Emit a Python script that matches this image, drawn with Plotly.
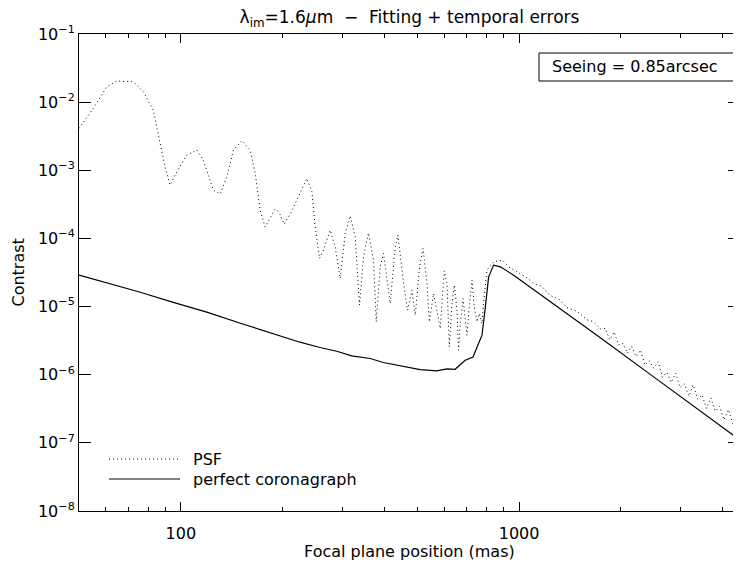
import math
import plotly.graph_objects as go

# ---------------- data ----------------
# PSF (dotted) — inner, oscillating part
psf_inner_x = [50, 55.1, 60.4, 64.6, 72.4, 77.5, 82.9, 86.8, 89.8, 92.9,
               97.3, 104.1, 111.5, 116.6, 124.8, 130.7, 136.8, 143.1, 151.5, 160.3,
               165.9, 171.6, 177.5, 183.7, 190.1, 195.3, 202.1, 210.5, 220.3, 235.9,
               244.1, 249.6, 257.0, 264.1, 276.4, 286.0, 295.9, 306.2, 316.8, 327.8,
               337.5, 346.8, 358.8, 371.3, 378.2, 388.6, 397.5, 416.0, 430.5, 438.5,
               455.6, 468.1, 482.4, 493.3, 508.0, 520.0, 534.3, 542.8, 558.9, 574.4,
               584.8, 601.0, 612.2, 621.9, 633.4, 643.5, 655.4, 662.6, 670.3, 682.7,
               693.4, 701.5, 714.0, 725.8, 737.3, 751.0, 762.9, 777.0, 785.7, 804.0,
               841.0, 890.6, 931.5, 1008.5, 1060, 1104, 1170, 1237, 1310, 1387,
               1480, 1589, 1660, 1740]
psf_inner_y = [4.12e-3, 8.1e-3, 1.68e-2, 2.04e-2, 2.0e-2, 1.42e-2, 7.66e-3, 2.48e-3, 1.12e-3, 6.07e-4,
               9.5e-4, 1.67e-3, 1.98e-3, 1.41e-3, 5.12e-4, 4.48e-4, 8.03e-4, 1.98e-3, 2.71e-3, 1.98e-3,
               9.0e-4, 2.6e-4, 1.47e-4, 1.99e-4, 2.69e-4, 2.43e-4, 1.62e-4, 2.27e-4, 3.65e-4, 7.6e-4,
               4.83e-4, 1.48e-4, 5.08e-5, 6.73e-5, 1.32e-4, 7.53e-5, 2.59e-5, 1.18e-4, 2.15e-4, 1.05e-4,
               1.05e-5, 5.37e-5, 1.21e-4, 4.8e-5, 5.96e-6, 3.83e-5, 6.03e-5, 1.11e-5, 7.53e-5, 1.12e-4,
               2.18e-5, 8.85e-6, 1.74e-5, 7.48e-6, 3.83e-5, 7.13e-5, 2.18e-5, 5.96e-6, 1.56e-5, 7.92e-6,
               4.77e-6, 3.34e-5, 2.18e-5, 2.56e-6, 1.11e-5, 2.06e-5, 8.85e-6, 2.29e-6, 5.65e-6, 1.31e-5,
               5.65e-6, 3.80e-6, 1.11e-5, 2.44e-5, 9.9e-6, 5.96e-6, 7.92e-6, 5.65e-6, 1.17e-5, 3.43e-5,
               4.53e-5, 4.8e-5, 3.83e-5, 3.06e-5, 2.6e-5, 2.2e-5, 1.95e-5, 1.45e-5, 1.3e-5, 9.6e-6,
               8.6e-6, 6.4e-6, 6.0e-6, 4.7e-6]

# PSF (dotted) — outer halo, noisy part
psf_outer_x = [1799, 1854, 1910, 1968, 2028, 2089, 2153, 2218, 2286, 2355,
               2427, 2500, 2576, 2655, 2735, 2818, 2904, 2992, 3083, 3177,
               3273, 3373, 3475, 3581, 3690, 3802, 3917, 4036, 4159, 4285,
               4416, 4498]
psf_outer_y = [4.80e-6, 3.27e-6, 4.23e-6, 2.74e-6, 2.89e-6, 2.06e-6, 2.61e-6, 1.85e-6, 2.30e-6, 1.39e-6,
               1.60e-6, 1.25e-6, 1.55e-6, 9.18e-7, 1.08e-6, 7.71e-7, 1.05e-6, 6.49e-7, 7.33e-7, 4.86e-7,
               7.08e-7, 4.39e-7, 5.06e-7, 3.21e-7, 4.56e-7, 2.90e-7, 3.42e-7, 2.17e-7, 3.08e-7, 1.91e-7,
               2.26e-7, 1.84e-7]

# Perfect coronagraph (solid)
cor_x = [50, 60, 75, 95, 120, 150, 185, 225, 258, 289,
         320, 363, 397, 445, 510, 571, 612, 647, 693, 731,
         751, 777, 795, 813, 841, 881, 964, 1104, 1386, 1739,
         2500, 3500, 4500]
cor_y = [2.9e-5, 2.25e-5, 1.65e-5, 1.15e-5, 8.2e-6, 5.7e-6, 4.1e-6, 3.0e-6, 2.51e-6, 2.21e-6,
         1.89e-6, 1.73e-6, 1.51e-6, 1.35e-6, 1.19e-6, 1.14e-6, 1.22e-6, 1.20e-6, 1.63e-6, 1.82e-6,
         2.56e-6, 3.80e-6, 9.9e-6, 2.73e-5, 4.06e-5, 3.83e-5, 2.89e-5, 1.79e-5, 8.0e-6, 3.5e-6,
         9.3e-7, 2.75e-7, 1.1e-7]

x_range = [50, 4500]
x_major = [100, 1000]
x_major_text = ["100", "1000"]
x_minor = [60, 70, 80, 90, 200, 300, 400, 500, 600, 700, 800, 900, 2000, 3000, 4000]
y_major = [1e-8, 1e-7, 1e-6, 1e-5, 1e-4, 1e-3, 1e-2, 1e-1]
y_major_text = ["10<sup>−8</sup>", "10<sup>−7</sup>", "10<sup>−6</sup>", "10<sup>−5</sup>",
                "10<sup>−4</sup>", "10<sup>−3</sup>", "10<sup>−2</sup>", "10<sup>−1</sup>"]

title_text = "λ<sub>im</sub>=1.6<i>μ</i>m  −  Fitting + temporal errors"
seeing_text = "Seeing = 0.85arcsec"
legend_labels = ["PSF", "perfect coronagraph"]

# ---------------- figure ----------------
FONT = "DejaVu Sans"
OFF = 8                      # page body margin offset
W, H = 741 - OFF, 565 - OFF
ML, MR, MT, MB = 79 - OFF, 1, 34 - OFF, 54
# screen coordinates of the plot area
SX0, SX1, SY0, SY1 = 79, 740, 34, 511


def px(xs):
    return (xs - SX0) / (SX1 - SX0)


def py(ys):
    return (SY1 - ys) / (SY1 - SY0)


fig = go.Figure()
fig.add_trace(go.Scatter(x=psf_inner_x + psf_outer_x, y=psf_inner_y + psf_outer_y,
                         mode="lines", line=dict(color="black", width=1, dash="1px,3px"),
                         showlegend=False, hoverinfo="skip"))
fig.add_trace(go.Scatter(x=cor_x, y=cor_y, mode="lines",
                         line=dict(color="black", width=1.2),
                         showlegend=False, hoverinfo="skip"))

axis_common = dict(showline=True, linecolor="black", linewidth=1, mirror="ticks",
                   showgrid=False, zeroline=False, ticks="inside", tickcolor="black",
                   tickfont=dict(family=FONT, size=16, color="black"))

fig.update_layout(
    width=W, height=H,
    margin=dict(l=ML, r=MR, t=MT, b=MB, autoexpand=False),
    paper_bgcolor="white", plot_bgcolor="white",
    font=dict(family=FONT, size=16, color="black"),
    title=dict(text=title_text, x=px(409.5), xref="paper", xanchor="center",
               y=1 - (17 - OFF) / H, yref="container", yanchor="middle",
               font=dict(family=FONT, size=17, color="black")),
    xaxis=dict(type="log", range=[math.log10(x_range[0]), math.log10(x_range[1])],
               tickmode="array", tickvals=x_major, ticktext=x_major_text, ticklen=9,
               ticklabelstandoff=8,
               minor=dict(tickmode="array", tickvals=x_minor, ticks="inside", ticklen=4,
                          tickcolor="black", showgrid=False),
               **axis_common),
    yaxis=dict(type="log", range=[-8, -1], tickmode="array", tickvals=y_major,
               ticktext=y_major_text, ticklen=12, **axis_common),
    showlegend=False,
)

annotations = [
    dict(text="Focal plane position (mas)", x=px(409.5), y=py(551), xref="paper", yref="paper",
         xanchor="center", yanchor="middle", showarrow=False, font=dict(family=FONT, size=16)),
    dict(text="Contrast", x=px(18), y=0.5, xref="paper", yref="paper", textangle=-90,
         xanchor="center", yanchor="middle", showarrow=False, font=dict(family=FONT, size=16)),
    dict(text=seeing_text, x=px(635), y=py(67), xref="paper", yref="paper",
         xanchor="center", yanchor="middle", showarrow=False, font=dict(family=FONT, size=16)),
    dict(text=legend_labels[0], x=px(191), y=py(459), xref="paper", yref="paper",
         xanchor="left", yanchor="middle", showarrow=False, font=dict(family=FONT, size=16)),
    dict(text=legend_labels[1], x=px(191), y=py(479), xref="paper", yref="paper",
         xanchor="left", yanchor="middle", showarrow=False, font=dict(family=FONT, size=16)),
]
fig.update_layout(annotations=annotations)

shapes = [
    dict(type="rect", xref="paper", yref="paper", x0=px(539), x1=px(734), y0=py(81), y1=py(53),
         line=dict(color="black", width=1), fillcolor="rgba(0,0,0,0)"),
    dict(type="line", xref="paper", yref="paper", x0=px(109), x1=px(180), y0=py(459), y1=py(459),
         line=dict(color="black", width=1, dash="1px,3px")),
    dict(type="line", xref="paper", yref="paper", x0=px(109), x1=px(180), y0=py(479), y1=py(479),
         line=dict(color="black", width=1.2)),
]
fig.update_layout(shapes=shapes)

fig.write_html("out.html")
